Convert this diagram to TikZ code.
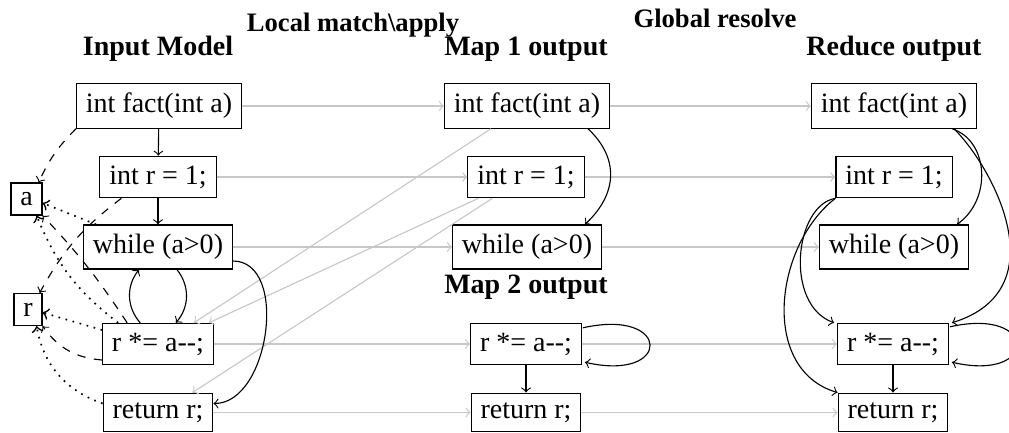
\documentclass[tikz,border=0pt]{standalone}
\usepackage{fontspec}
\setmainfont{Liberation Serif}
\usetikzlibrary{calc}
\begin{document}
\begin{tikzpicture}[x=0.357pt,y=-0.357pt,
  box/.style={draw,inner sep=3.33pt,font=\fontsize{10}{12}\selectfont},
  ttl/.style={font=\bfseries\fontsize{10}{12}\selectfont,anchor=base,inner sep=0pt},
  sttl/.style={font=\bfseries\fontsize{9.5}{11}\selectfont,anchor=base,inner sep=0pt},
  arr/.style={->},
  garr/.style={->,draw=black!22},
  defl/.style={->,dashed},
  usel/.style={->,dotted,line width=0.6pt}]
\useasboundingbox (0,0) rectangle (1009,432);
\clip (0,0) rectangle (1009,432);

% titles
\node[sttl] (tlocal) at (353,31) {Local match\textbackslash apply};
\node[sttl] (tglob) at (715,27) {Global resolve};
\node[ttl] (tin) at (158,55) {Input Model};
\node[ttl] (tm1) at (526,55) {Map 1 output};
\node[ttl] (tred) at (894,55) {Reduce output};
\node[ttl] (tm2) at (526,293) {Map 2 output};

% input model
\node[box] (fin) at (159,106) {int fact(int a)};
\node[box] (r1in) at (158,177) {int r = 1;};
\node[box] (win) at (158,247) {while (a>0)};
\node[box] (rin) at (158,344) {r *= a-{}-;};
\node[box] (retin) at (158,412.5) {return r;};
\node[box] (a) at (26.5,199) {a};
\node[box] (r) at (28,309.5) {r};

% map outputs
\node[box] (fm1) at (527,106) {int fact(int a)};
\node[box] (r1m1) at (526,177) {int r = 1;};
\node[box] (wm1) at (527,247) {while (a>0)};
\node[box] (rm2) at (526,344) {r *= a-{}-;};
\node[box] (retm2) at (526,412.5) {return r;};

% reduce output
\node[box] (fred) at (894,106) {int fact(int a)};
\node[box] (r1red) at (894,177) {int r = 1;};
\node[box] (wred) at (894,247) {while (a>0)};
\node[box] (rred) at (893,344) {r *= a-{}-;};
\node[box] (retred) at (893,412.5) {return r;};

% gray mapping arrows
\draw[garr] (fin) -- (fm1);
\draw[garr] (r1in) -- (r1m1);
\draw[garr] (win) -- (wm1);
\draw[garr] (rin) -- (rm2);
\draw[garr] (retin) -- (retm2);
\draw[garr] (fm1) -- (fred);
\draw[garr] (r1m1) -- (r1red);
\draw[garr] (wm1) -- (wred);
\draw[garr] (rm2) -- (rred);
\draw[garr] (retm2) -- (retred);
\draw[garr] ($(fm1.south west)+(47,0)$) -- ($(rin.north east)+(-20,0)$);
\draw[garr] ($(r1m1.south west)+(11,0)$) -- ($(rin.north east)+(-5,0)$);
\draw[garr] ($(r1m1.south west)+(25,0)$) -- ($(retin.north east)+(-21,0)$);

% input model control flow
\draw[arr] (fin) -- (r1in);
\draw[arr] (r1in) -- (win);
\draw[arr] (win) to[bend left=40] (rin);
\draw[arr] (rin) to[bend left=40] (win);
\draw[arr] ($(win.east)+(0,14)$) to[out=0,in=0] ($(retin.east)+(0,-9)$);

% def / use
\draw[defl] (fin.south west) to[bend right=10] ($(a.north east)+(-4,0)$);
\draw[defl] ($(r1in.south west)+(22,0)$) to[bend right=12] ($(r.north east)+(-3,0)$);
\draw[defl] ($(rin.north west)+(25,0)$) to[bend right=5] (a.south east);
\draw[usel] ($(rin.north west)+(16,0)$) to[bend left=15] ($(a.south east)+(-6,0)$);
\draw[usel] ($(win.north west)+(13,0)$) -- ($(a.east)+(0,4)$);
\draw[usel] ($(rin.west)+(0,-14)$) -- ($(r.east)+(0,3)$);
\draw[defl] ($(rin.west)+(0,16)$) to[bend left=25] (r.south east);
\draw[usel] ($(retin.west)+(0,-9)$) to[bend left=30] ($(r.south east)+(-6,0)$);

% map 1 / map 2
\draw[arr] ($(fm1.south east)+(-22,0)$) .. controls +(32,30) and +(32,-30) .. ($(wm1.north east)+(-17,0)$);
\draw[arr] ($(rm2.north east)+(1,5)$) .. controls +(89,-20) and +(87,20) .. ($(rm2.south east)+(3,-3)$);
\draw[arr] (rm2) -- (retm2);

% reduce
\draw[arr] ($(fred.south east)+(-25,0)$) .. controls +(37,12) and +(35,-25) .. ($(wred.north east)+(-12,0)$);
\draw[arr] ($(fred.south east)+(-23,0)$) .. controls +(40,40) and +(106,-33) .. ($(rred.north east)+(3,0)$);
\draw[arr] (r1red.south west) .. controls +(-41,7) and +(-50,-18) .. ($(rred.north west)+(-3,0)$);
\draw[arr] (r1red.south west) .. controls +(-61,47) and +(-78,-23) .. (retred.north west);
\draw[arr] ($(rred.north east)+(1,4)$) .. controls +(89,-20) and +(87,20) .. ($(rred.south east)+(3,-3)$);
\draw[arr] (rred) -- (retred);
\end{tikzpicture}
\end{document}
